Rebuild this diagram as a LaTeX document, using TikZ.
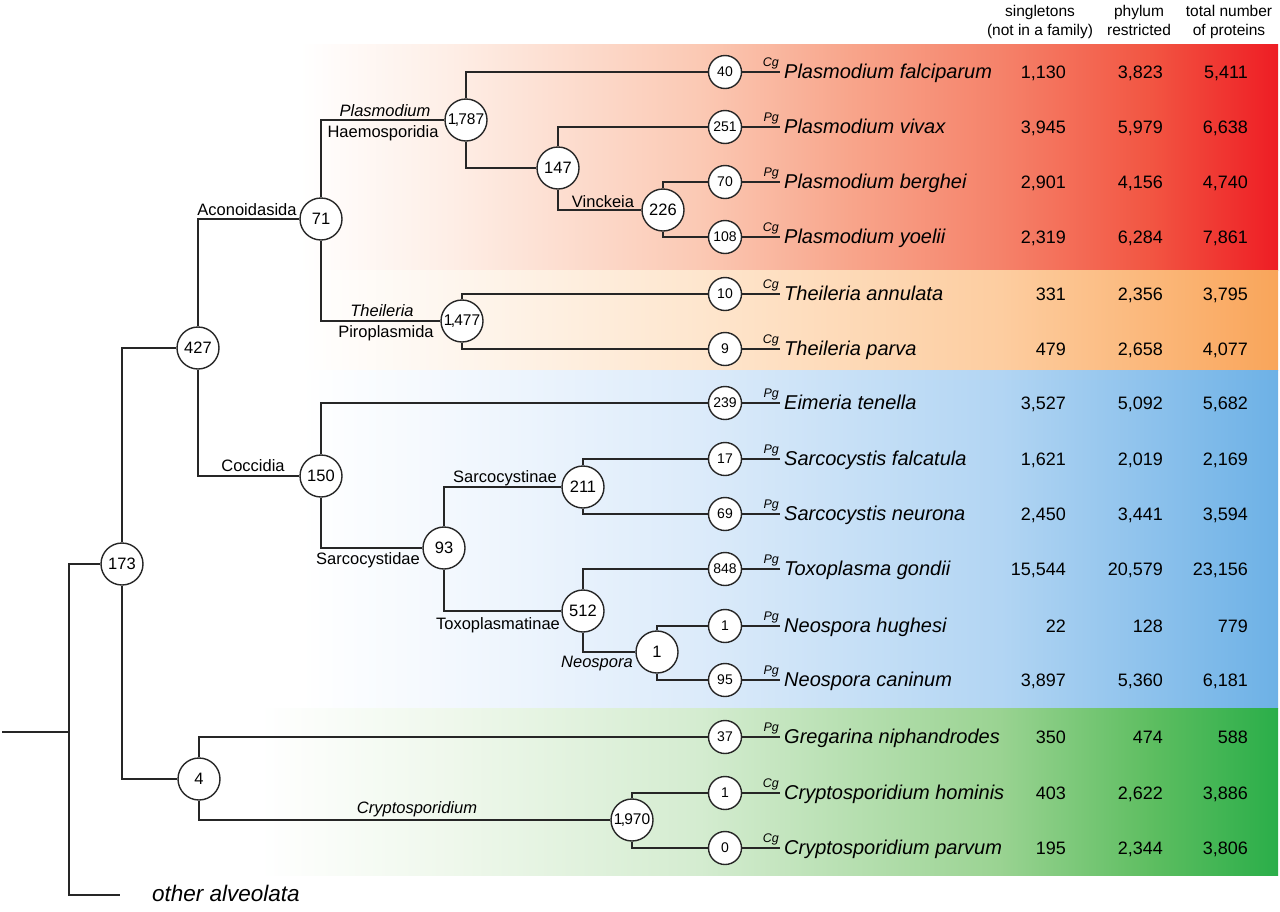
\documentclass[tikz,border=0pt]{standalone}
\usepackage{fontspec}
\setmainfont{Liberation Sans}
\definecolor{linec}{HTML}{262626}
\definecolor{rA}{HTML}{FEEEE6}
\definecolor{rB}{HTML}{FBC9B4}
\definecolor{rC}{HTML}{F8A58B}
\definecolor{rD}{HTML}{F5826A}
\definecolor{rE}{HTML}{F25542}
\definecolor{rF}{HTML}{EE1D24}
\definecolor{oA}{HTML}{FEF6EE}
\definecolor{oB}{HTML}{FEE6CE}
\definecolor{oC}{HTML}{FDCDA0}
\definecolor{oD}{HTML}{F9A55A}
\definecolor{bA}{HTML}{F3F8FE}
\definecolor{bB}{HTML}{DCEBFA}
\definecolor{bC}{HTML}{B2D5F3}
\definecolor{bD}{HTML}{6DB1E6}
\definecolor{gA}{HTML}{EFF8EC}
\definecolor{gB}{HTML}{D4ECD0}
\definecolor{gC}{HTML}{9AD392}
\definecolor{gD}{HTML}{5EBE61}
\definecolor{gE}{HTML}{2AAE49}
\pgfdeclarehorizontalshading{redband}{100bp}{color(0bp)=(white); color(25bp)=(white); color(32.7bp)=(rA); color(45.4bp)=(rB); color(53.1bp)=(rC); color(60.8bp)=(rD); color(68.5bp)=(rE); color(75bp)=(rF); color(100bp)=(rF)}
\pgfdeclarehorizontalshading{orangeband}{100bp}{color(0bp)=(white); color(25bp)=(white); color(32.7bp)=(oA); color(45.4bp)=(oB); color(60.8bp)=(oC); color(75bp)=(oD); color(100bp)=(oD)}
\pgfdeclarehorizontalshading{blueband}{100bp}{color(0bp)=(white); color(25bp)=(white); color(32.7bp)=(bA); color(45.4bp)=(bB); color(60.8bp)=(bC); color(75bp)=(bD); color(100bp)=(bD)}
\pgfdeclarehorizontalshading{greenband}{100bp}{color(0bp)=(white); color(25bp)=(white); color(34.3bp)=(gA); color(46.6bp)=(gB); color(61.3bp)=(gC); color(68.7bp)=(gD); color(75bp)=(gE); color(100bp)=(gE)}
\tikzset{
  inode/.style={circle, draw=linec, fill=white, line width=1.4pt, minimum size=42pt, inner sep=0pt, font=\fontsize{16.5}{16.5}\selectfont},
  cnode/.style={inode, font=\fontsize{15.5}{15.5}\selectfont},
  leafnode/.style={circle, draw=linec, fill=white, line width=1.4pt, minimum size=33pt, inner sep=0pt, font=\fontsize{14}{14}\selectfont},
  branch/.style={draw=linec, line width=1.4pt},
  species/.style={anchor=base west, inner sep=0pt, font=\fontsize{20}{20}\selectfont\itshape},
  numc/.style={anchor=base east, inner sep=0pt, font=\fontsize{18}{18}\selectfont},
  glab/.style={anchor=base east, inner sep=0pt, font=\fontsize{12.5}{12.5}\selectfont\itshape},
  clade/.style={anchor=base, inner sep=0pt, font=\fontsize{16.5}{16.5}\selectfont},
  cladeit/.style={clade, font=\fontsize{16.5}{16.5}\selectfont\itshape},
  hdr/.style={anchor=base, inner sep=0pt, font=\fontsize{15.5}{15.5}\selectfont}
}
\begin{document}
\begin{tikzpicture}[x=1pt,y=-1pt]
\useasboundingbox (0,0) rectangle (1280,911);
% coloured bands
\shade[shading=redband] (300,44) rectangle (1278,270);
\shade[shading=orangeband] (300,270) rectangle (1278,370);
\shade[shading=blueband] (300,370) rectangle (1278,708);
\shade[shading=greenband] (260,708) rectangle (1278,875);
% header
\node[hdr] (h1a) at (1040,16.5) {singletons};
\node[hdr] (h1b) at (1040,35) {(not in a family)};
\node[hdr] (h2a) at (1139,16.5) {phylum};
\node[hdr] (h2b) at (1139,35) {restricted};
\node[hdr] (h3a) at (1229,16.5) {total number};
\node[hdr] (h3b) at (1229,35) {of proteins};
% internal nodes
\node[inode] (n173) at (122,564) {173};
\node[inode] (n427) at (198,348) {427};
\node[inode] (n4) at (199,779) {4};
\node[inode] (n71) at (321,219) {71};
\node[inode] (n150) at (321,476) {150};
\node[cnode] (n1787) at (466,120) {1\kern-1.5pt,\kern-1pt787};
\node[cnode] (n1477) at (462,321) {1\kern-1.5pt,\kern-1pt477};
\node[inode] (n147) at (558,168) {147};
\node[inode] (n226) at (663,210) {226};
\node[inode] (n93) at (444,548) {93};
\node[inode] (n211) at (583,487) {211};
\node[inode] (n512) at (583,611) {512};
\node[inode] (n1) at (657,652) {1};
\node[cnode] (n1970) at (632,820) {1\kern-1.5pt,\kern-1pt970};
% leaves
\foreach \i/\y/\v/\g/\sp/\a/\b/\c in {
 1/72/40/Cg/Plasmodium falciparum/1{,}130/3{,}823/5{,}411,
 2/127/251/Pg/Plasmodium vivax/3{,}945/5{,}979/6{,}638,
 3/182/70/Pg/Plasmodium berghei/2{,}901/4{,}156/4{,}740,
 4/237/108/Cg/Plasmodium yoelii/2{,}319/6{,}284/7{,}861,
 5/294/10/Cg/Theileria annulata/331/2{,}356/3{,}795,
 6/349/9/Cg/Theileria parva/479/2{,}658/4{,}077,
 7/403/239/Pg/Eimeria tenella/3{,}527/5{,}092/5{,}682,
 8/459/17/Pg/Sarcocystis falcatula/1{,}621/2{,}019/2{,}169,
 9/514/69/Pg/Sarcocystis neurona/2{,}450/3{,}441/3{,}594,
 10/569/848/Pg/Toxoplasma gondii/15{,}544/20{,}579/23{,}156,
 11/626/1/Pg/Neospora hughesi/22/128/779,
 12/680/95/Pg/Neospora caninum/3{,}897/5{,}360/6{,}181,
 13/737/37/Pg/Gregarina niphandrodes/350/474/588,
 14/793/1/Cg/Cryptosporidium hominis/403/2{,}622/3{,}886,
 15/848/0/Cg/Cryptosporidium parvum/195/2{,}344/3{,}806}{
  \node[leafnode] (l\i) at (725,\y) {\v};
  \coordinate (e\i) at (780,\y);
  \draw[branch] (l\i) -- (e\i);
  \node[glab] (g\i) at (779,\y-5.5) {\g};
  \node[species] (s\i) at (784,\y+6.5) {\sp};
  \node[numc] (a\i) at (1066,\y+6.5) {\a};
  \node[numc] (b\i) at (1163,\y+6.5) {\b};
  \node[numc] (c\i) at (1248,\y+6.5) {\c};
}
% root
\coordinate (r0) at (2,732);
\coordinate (rj) at (69,732);
\coordinate (oa) at (120,895);
\draw[branch] (r0) -- (rj);
\draw[branch] (rj) |- (n173);
\draw[branch] (rj) |- (oa);
\node[anchor=west, inner sep=0pt, font=\fontsize{22.5}{22.5}\selectfont\itshape] (oat) at (152,893) {other alveolata};
% branches
\draw[branch] (n173) |- (n427);
\draw[branch] (n173) |- (n4);
\draw[branch] (n427) |- (n71);
\draw[branch] (n427) |- (n150);
\draw[branch] (n71) |- (n1787);
\draw[branch] (n71) |- (n1477);
\draw[branch] (n1787) |- (l1);
\draw[branch] (n1787) |- (n147);
\draw[branch] (n147) |- (l2);
\draw[branch] (n147) |- (n226);
\draw[branch] (n226) |- (l3);
\draw[branch] (n226) |- (l4);
\draw[branch] (n1477) |- (l5);
\draw[branch] (n1477) |- (l6);
\draw[branch] (n150) |- (l7);
\draw[branch] (n150) |- (n93);
\draw[branch] (n93) |- (n211);
\draw[branch] (n93) |- (n512);
\draw[branch] (n211) |- (l8);
\draw[branch] (n211) |- (l9);
\draw[branch] (n512) |- (l10);
\draw[branch] (n512) |- (n1);
\draw[branch] (n1) |- (l11);
\draw[branch] (n1) |- (l12);
\draw[branch] (n4) |- (l13);
\draw[branch] (n4) |- (n1970);
\draw[branch] (n1970) |- (l14);
\draw[branch] (n1970) |- (l15);
% clade labels
\node[clade] (tA) at (247,215) {Aconoidasida};
\node[clade] (tC) at (253,471) {Coccidia};
\node[cladeit] (tP) at (385,116) {Plasmodium};
\node[clade] (tH) at (383,137) {Haemosporidia};
\node[clade] (tV) at (603,207) {Vinckeia};
\node[cladeit] (tT) at (382,316) {Theileria};
\node[clade] (tPi) at (386,337) {Piroplasmida};
\node[clade] (tSi) at (505,482) {Sarcocystinae};
\node[clade] (tSd) at (368,564) {Sarcocystidae};
\node[clade] (tTx) at (498,629) {Toxoplasmatinae};
\node[cladeit] (tN) at (597,667) {Neospora};
\node[cladeit] (tCr) at (417,813) {Cryptosporidium};
\end{tikzpicture}
\end{document}
